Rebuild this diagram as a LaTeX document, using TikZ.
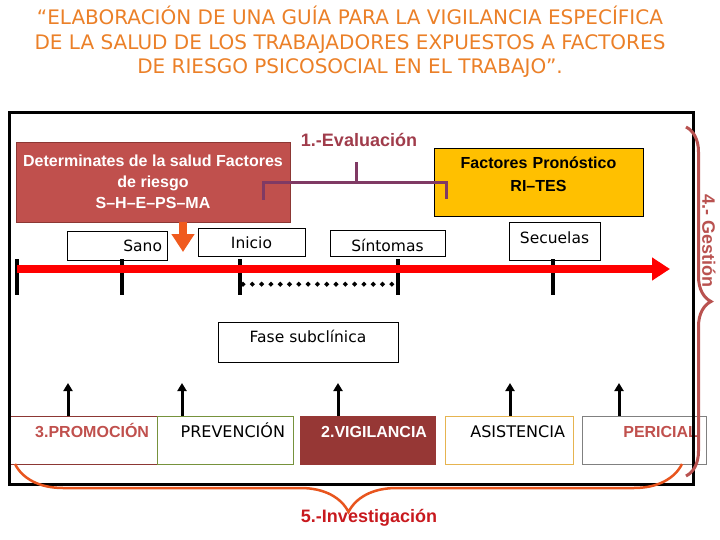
\documentclass[tikz,border=0pt]{standalone}
\usepackage{fontspec}
\setmainfont{DejaVu Sans}
\newfontfamily\arialfont{Liberation Sans}
\usetikzlibrary{arrows.meta,decorations.pathreplacing,decorations.markings}
\definecolor{titleorange}{RGB}{235,128,40}
\definecolor{detred}{RGB}{192,80,77}
\definecolor{detedge}{RGB}{140,55,52}
\definecolor{vigred}{RGB}{150,55,53}
\definecolor{pronyellow}{RGB}{255,192,0}
\definecolor{evalplum}{RGB}{128,58,100}
\definecolor{evalrose}{RGB}{160,60,75}
\definecolor{gestrose}{RGB}{185,82,80}
\definecolor{invorange}{RGB}{232,85,30}
\definecolor{invred}{RGB}{200,25,30}
\definecolor{onsetorange}{RGB}{240,90,30}
\newcommand\stagesize{\fontsize{15.5}{18}\selectfont}
\newcommand\gothbold{\arialfont\bfseries\fontsize{16}{21}\selectfont}
\newcommand\headbold{\arialfont\bfseries\fontsize{18}{20}\selectfont}

\begin{document}
\begin{tikzpicture}[x=1pt,y=-1pt,
  stagebox/.style={draw=black,line width=.7pt,fill=white,inner sep=0pt,font=\stagesize},
  actbox/.style={line width=.8pt,inner ysep=0pt,inner xsep=8pt,align=right,
    text height=21.7pt,text depth=26.3pt},
  tickline/.style={line width=3.5pt},
  uparrow/.style={line width=3pt,-{Triangle[length=8pt,width=9pt]}},
  evalline/.style={line width=3pt,evalplum},
  dotline/.style={postaction={decorate},decoration={markings,
    mark=between positions 3pt and -2pt step 9.3pt with
      {\fill (-2.6,0) -- (0,2.6) -- (2.6,0) -- (0,-2.6) -- cycle;}}},
  gestbrace/.style={decorate,decoration={brace,amplitude=25pt},line width=3pt,gestrose},
  invbrace/.style={decorate,decoration={brace,amplitude=48pt},line width=2.5pt,invorange}]
\useasboundingbox (0,0) rectangle (720,540); % slide size
\node[text=titleorange,align=center,font=\fontsize{20}{24.5}\selectfont] (title) at (350,42)
  {“ELABORACIÓN DE UNA GUÍA PARA LA VIGILANCIA ESPECÍFICA\\
   DE LA SALUD DE LOS TRABAJADORES EXPUESTOS A FACTORES\\
   DE RIESGO PSICOSOCIAL EN EL TRABAJO”.};

% upper boxes
\node[draw=detedge,line width=.8pt,fill=detred,text=white,font=\gothbold,align=center,
  minimum width=274pt,minimum height=80pt,inner sep=0pt] (det) at (153,182)
  {Determinates de la salud Factores\\de riesgo\\S–H–E–PS–MA};
\node[draw=black,line width=.8pt,fill=pronyellow,font=\arialfont\bfseries\fontsize{16}{23}\selectfont,
  text width=190pt,align=center,minimum width=209pt,inner ysep=0pt,
  text height=20.7pt,text depth=47.3pt] (pron) at (538.5,182)
  {Factores Pronóstico\\RI–TES};
\node[font=\headbold,text=evalrose,inner sep=0pt,text height=13pt,text depth=0pt] (eval) at (359,140) {1.-Evaluación};
\draw[evalline] ([shift={(-27,18)}]det.east) -- ++(0,-17) -| ([shift={(13,17)}]pron.west);
\draw[evalline] ([shift={(-3,15.5)}]eval.south) -- ++(0,21);

% stages on the time line
\node[stagebox,minimum width=100pt,text width=90pt,align=right,text height=20.6pt,text depth=8.4pt] (sano) at (117,245.5) {Sano};
\node[stagebox,minimum width=107pt,text height=20.6pt,text depth=7.4pt] (inicio) at (251.5,242) {Inicio};
\node[stagebox,minimum width=115pt,text height=21.6pt,text depth=4.4pt] (sintomas) at (387.5,243) {Síntomas};
\node[stagebox,minimum width=91pt,text height=21.6pt,text depth=16.4pt] (secuelas) at (554.5,241) {Secuelas};
\node[stagebox,minimum width=180pt,text height=20.6pt,text depth=19.4pt] (fase) at (308,342) {Fase subclínica};

\coordinate (onset) at (183,252);
\draw[line width=8pt,onsetorange,-{Triangle[length=18pt,width=22pt]}] (onset |- det.south) -- (onset);

\foreach \x/\nm in {17/tstart,122/tsano,240/tinicio,398/tsint,553/tsecu}
  \draw[tickline] (\x,259) -- (\x,295) coordinate[pos=0.7] (\nm);
\coordinate (axend) at (670,269);
\draw[line width=8pt,red,-{Triangle[length=18pt,width=22pt]}] (tstart |- axend) -- (axend);
\path[dotline] (tinicio) -- (tsint);

% actions
\node[actbox,draw=detedge,text width=132pt,font=\gothbold,text=detred] (promo) at (83,440) {3.PROMOCIÓN};
\node[actbox,draw={rgb,255:red,118;green,146;blue,60},text width=120pt,font=\fontsize{16}{19}\selectfont] (preve) at (225,440) {PREVENCIÓN};
\node[actbox,draw=vigred,fill=vigred,text width=119pt,font=\gothbold,text=white] (vigil) at (367.5,440) {2.VIGILANCIA};
\node[actbox,draw={rgb,255:red,230;green,180;blue,80},text width=112pt,font=\fontsize{16}{19}\selectfont] (asist) at (509,440) {ASISTENCIA};
\node[actbox,draw=gray,text width=108pt,font=\gothbold,text=detred] (peric) at (644,440) {PERICIAL};

\foreach \b/\x in {promo/68,preve/182,vigil/338,asist/510,peric/619} {
  \coordinate (\b tip) at (\x,383);
  \draw[uparrow] (\b tip |- \b.north) -- (\b tip);
}

\draw[line width=3pt] (9,113) rectangle (693,484);

% gestion and investigacion
\draw[gestbrace] (686,127) -- (686,476);
\node[rotate=-90,font=\headbold,text=gestrose] (gestlbl) at (709,241) {4.- Gestión};
\draw[invbrace] (682,464) -- (15,464);
\node[font=\headbold,text=invred] (invlbl) at (369,518) {5.-Investigación};
\end{tikzpicture}
\end{document}
